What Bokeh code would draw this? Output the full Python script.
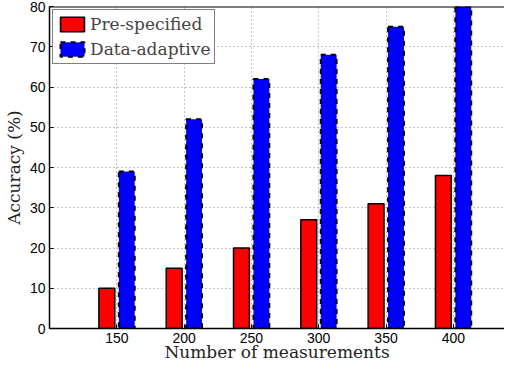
from bokeh.plotting import figure
from bokeh.models import FixedTicker, Range1d, Legend, LegendItem, ColumnDataSource, Span
from bokeh.transform import dodge
from bokeh.embed import file_html
from bokeh.resources import INLINE

measurements = [150, 200, 250, 300, 350, 400]
pre_specified = [10, 15, 20, 27, 31, 38]
data_adaptive = [39, 52, 62, 68, 75, 80]
y_ticks = [0, 10, 20, 30, 40, 50, 60, 70, 80]

src = ColumnDataSource(dict(x=measurements, pre=pre_specified, ada=data_adaptive))

p = figure(width=504, height=364, x_range=Range1d(100, 438), y_range=Range1d(0, 80),
           output_backend="svg", toolbar_location=None,
           min_border_left=44, min_border_right=0, min_border_top=6, min_border_bottom=28)
p.outline_line_color = None
p.background_fill_color = "white"

r1 = p.vbar(x=dodge('x', -7.4), top='pre', width=11.8, bottom=0, source=src,
            fill_color="#ff0000", line_color="black", line_width=1.5)
r2 = p.vbar(x=dodge('x', 7.4), top='ada', width=11.8, bottom=0, source=src,
            fill_color="#0000ff", line_color="black", line_width=2, line_dash="5 5")

for ax in [p.xaxis[0], p.yaxis[0]]:
    ax.major_tick_in = 4
    ax.major_tick_out = 0
    ax.minor_tick_line_color = None
    ax.axis_line_width = 1.5
    ax.axis_line_color = "black"
    ax.major_tick_line_color = "black"
    ax.major_label_text_font = "Liberation Sans"
    ax.major_label_text_font_size = "14px"
    ax.major_label_text_color = "black"
    ax.axis_label_text_font = "DejaVu Serif"
    ax.axis_label_text_font_size = "17px"
    ax.axis_label_text_font_style = "normal"
    ax.axis_label_text_color = "#222222"

p.xaxis.ticker = FixedTicker(ticks=measurements)
p.yaxis.ticker = FixedTicker(ticks=y_ticks)
p.xaxis.axis_label = "Number of measurements"
p.yaxis.axis_label = "Accuracy (%)"
p.xaxis.major_label_standoff = 4
p.xaxis.axis_label_standoff = -4
p.yaxis.major_label_standoff = 4
p.yaxis.axis_label_standoff = 3

p.add_layout(Span(location=80, dimension="width", line_color="black", line_width=2))

p.xgrid.ticker = FixedTicker(ticks=measurements)
p.ygrid.ticker = FixedTicker(ticks=y_ticks)
for g in [p.xgrid[0], p.ygrid[0]]:
    g.grid_line_color = "#888888"
    g.grid_line_dash = "1 3"
    g.grid_line_width = 1

legend = Legend(items=[LegendItem(label="Pre-specified", renderers=[r1]),
                       LegendItem(label="Data-adaptive", renderers=[r2])],
                location="top_left", margin=3, padding=4, spacing=5,
                glyph_width=30, glyph_height=18, label_standoff=3,
                label_text_font="DejaVu Serif", label_text_font_size="17px",
                border_line_color="black", border_line_width=1.5,
                background_fill_alpha=1.0)
p.add_layout(legend)

open("out.html", "w").write(file_html(p, INLINE))
